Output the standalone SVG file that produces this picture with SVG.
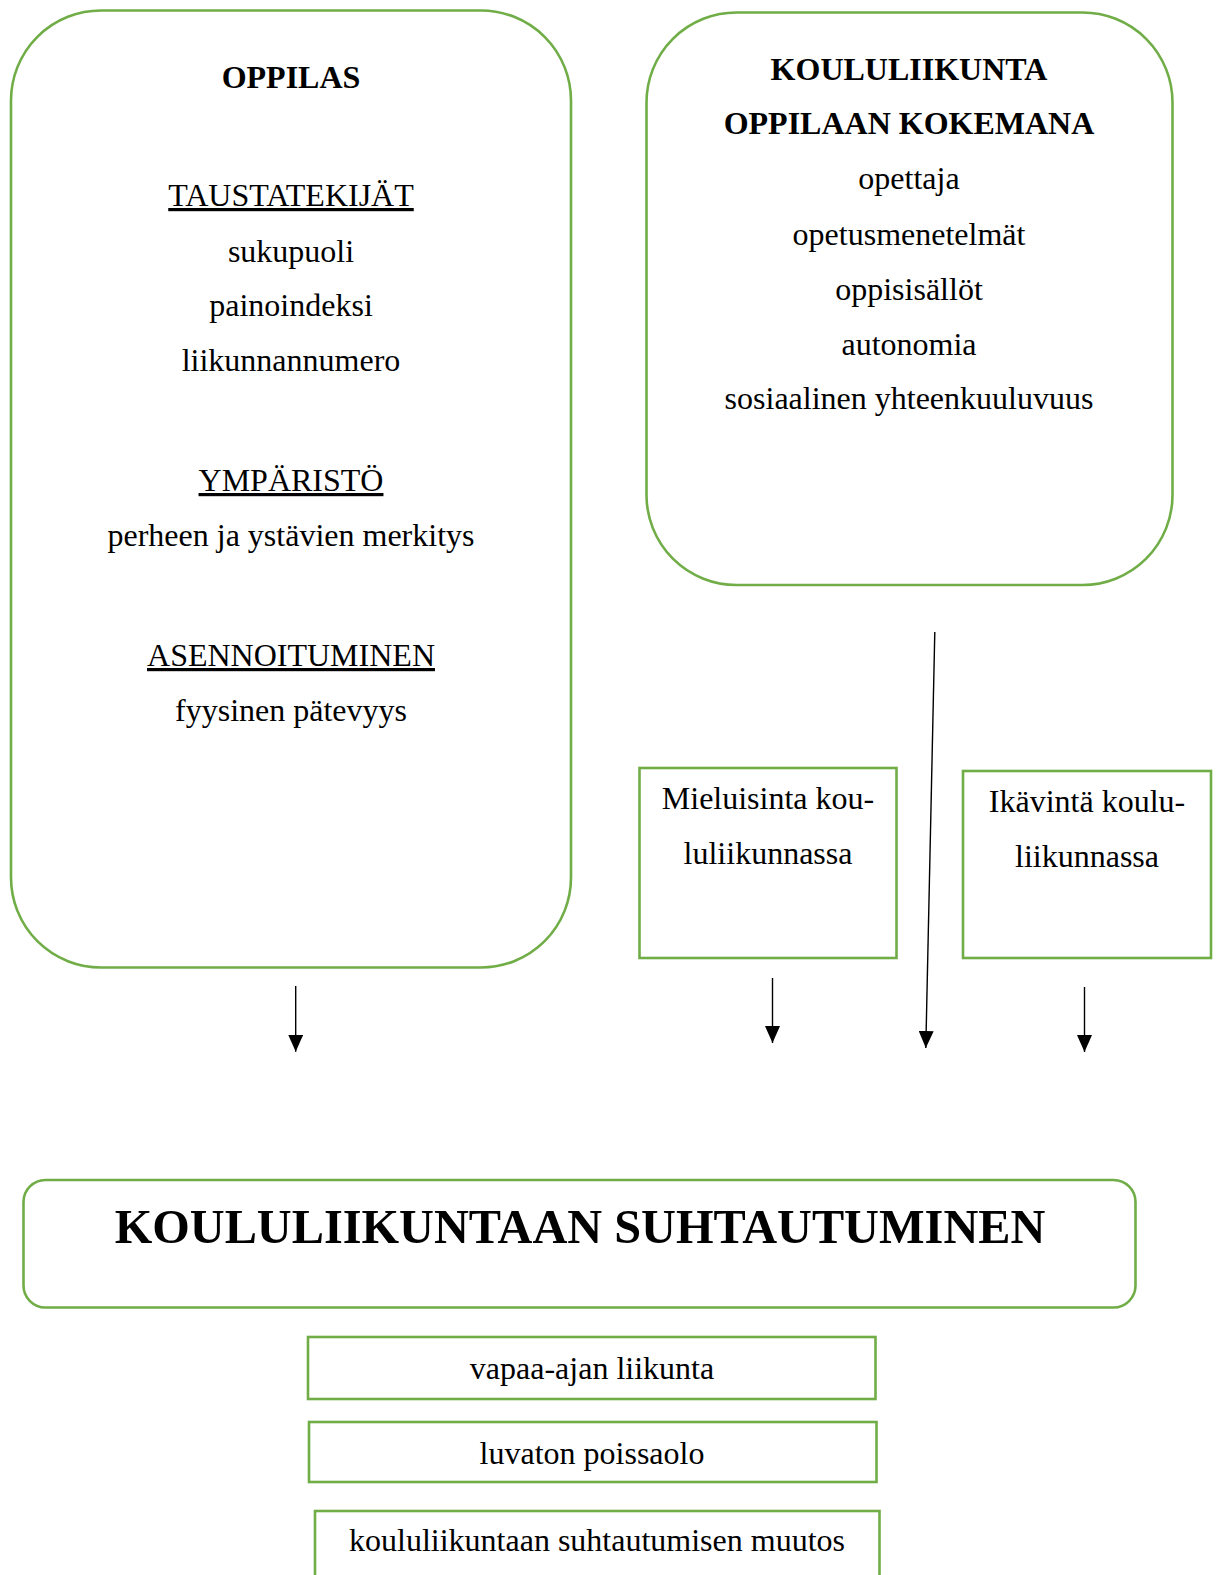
<svg xmlns="http://www.w3.org/2000/svg" width="1216" height="1575" viewBox="0 0 1216 1575">
<defs>
<style>
.box{fill:#ffffff;stroke:#70AD47;stroke-width:2.6}
.t{font-family:"Liberation Serif","Times New Roman",serif;font-size:32px;fill:#000;text-anchor:middle}
.b{font-weight:bold}
.u{text-decoration:underline}
.big{font-size:48.3px;font-weight:bold}
.conn{stroke:#000;stroke-width:1.4;fill:none;marker-end:url(#arr)}
</style>
<marker id="arr" viewBox="0 0 17 15" refX="17" refY="7.5" markerWidth="17" markerHeight="15" markerUnits="userSpaceOnUse" orient="auto">
<path d="M0,0 L17,7.5 L0,15 z" fill="#000"/>
</marker>
</defs>
<rect width="1216" height="1575" fill="#ffffff"/>

<g id="oppilas">
<rect class="box" x="11" y="10.5" width="560" height="957" rx="90" ry="90"/>
<text class="t b" x="291" y="88">OPPILAS</text>
<text class="t u" x="291" y="206">TAUSTATEKIJÄT</text>
<text class="t" x="291" y="262">sukupuoli</text>
<text class="t" x="291" y="316">painoindeksi</text>
<text class="t" x="291" y="371">liikunnannumero</text>
<text class="t u" x="291" y="491">YMPÄRISTÖ</text>
<text class="t" x="291" y="546">perheen ja ystävien merkitys</text>
<text class="t u" x="291" y="666">ASENNOITUMINEN</text>
<text class="t" x="291" y="721">fyysinen pätevyys</text>
</g>

<g id="koululiikunta">
<rect class="box" x="646.5" y="12.5" width="526" height="572.5" rx="90" ry="90"/>
<text class="t b" x="909" y="80">KOULULIIKUNTA</text>
<text class="t b" x="909" y="134">OPPILAAN KOKEMANA</text>
<text class="t" x="909" y="189">opettaja</text>
<text class="t" x="909" y="245">opetusmenetelmät</text>
<text class="t" x="909" y="300">oppisisällöt</text>
<text class="t" x="909" y="355">autonomia</text>
<text class="t" x="909" y="409">sosiaalinen yhteenkuuluvuus</text>
</g>

<g id="mieluisinta">
<rect class="box" x="639.5" y="768" width="257" height="190"/>
<text class="t" x="768" y="809">Mieluisinta kou-</text>
<text class="t" x="768" y="864">luliikunnassa</text>
</g>

<g id="ikavinta">
<rect class="box" x="963" y="771" width="248" height="187"/>
<text class="t" x="1087" y="812">Ikävintä koulu-</text>
<text class="t" x="1087" y="867">liikunnassa</text>
</g>

<g id="suhtautuminen">
<rect class="box" x="23.5" y="1180" width="1112" height="127.5" rx="22" ry="22"/>
<text class="t big" x="580" y="1243">KOULULIIKUNTAAN SUHTAUTUMINEN</text>
</g>

<g id="vapaa-ajan">
<rect class="box" x="308" y="1337" width="567.5" height="62"/>
<text class="t" x="592" y="1379">vapaa-ajan liikunta</text>
</g>

<g id="luvaton">
<rect class="box" x="309" y="1422" width="567.5" height="60"/>
<text class="t" x="592" y="1464">luvaton poissaolo</text>
</g>

<g id="muutos">
<rect class="box" x="315" y="1511" width="564.5" height="80"/>
<text class="t" x="597" y="1551">koululiikuntaan suhtautumisen muutos</text>
</g>

<g id="connectors">
<line class="conn" x1="295.7" y1="986" x2="295.7" y2="1051.7"/>
<line class="conn" x1="772.5" y1="978" x2="772.5" y2="1043"/>
<line class="conn" x1="934.8" y1="632" x2="925.8" y2="1048"/>
<line class="conn" x1="1084.5" y1="987" x2="1084.5" y2="1052"/>
</g>
</svg>
